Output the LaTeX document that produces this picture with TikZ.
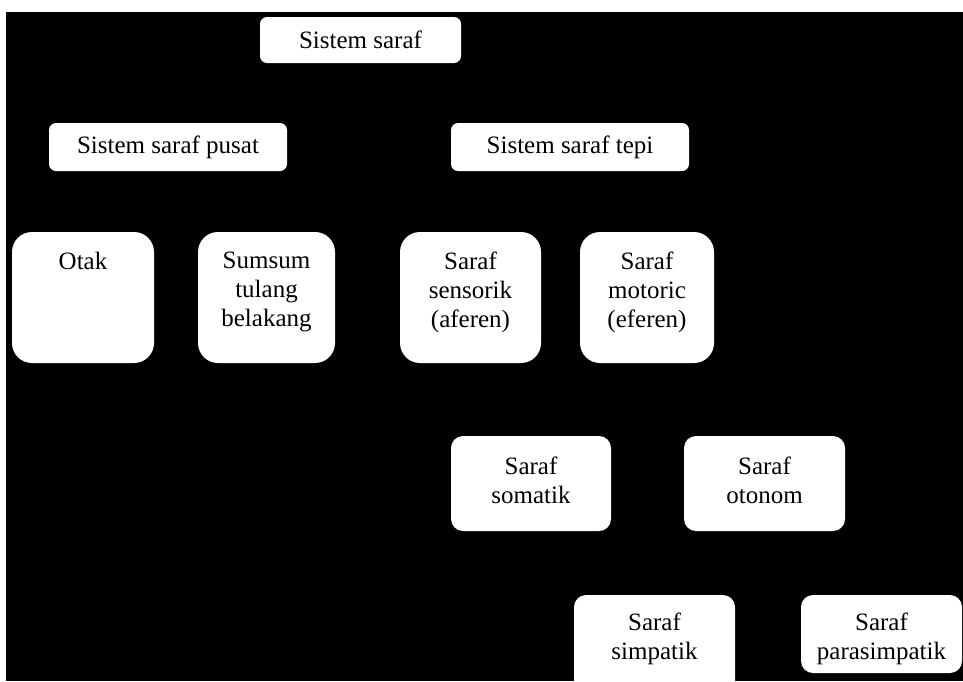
\documentclass[tikz,border=0pt]{standalone}
\usepackage{fontspec}
\setmainfont{Liberation Serif}
\begin{document}
\begin{tikzpicture}[x=1pt,y=-1pt,
  box/.style={rectangle, fill=white, draw=none, inner sep=0pt, rounded corners=#1},
  box/.default=10pt,
  lbl/.style={font=\fontsize{25}{29}\selectfont, align=center, inner sep=0pt, anchor=north, text=black},
  mid/.style={font=\fontsize{25}{29}\selectfont, align=center, inner sep=0pt, text=black}]
\useasboundingbox (0,0) rectangle (963,681);
\clip (0,0) rectangle (963,681);
\fill[white] (0,0) rectangle (963,681);
\fill[black] (6,12) rectangle (963,681);

% level 0
\node[box=7pt, minimum width=201pt, minimum height=46pt] (ss) at (360.5,40) {};
\node[mid] (ssT) at (ss.center) {Sistem saraf};

% level 1
\node[box=7pt, minimum width=238pt, minimum height=48pt] (ssp) at (168,147) {};
\node[mid] (sspT) at (ssp.center) {Sistem saraf pusat};
\node[box=7pt, minimum width=238pt, minimum height=48pt] (sst) at (570,147) {};
\node[mid] (sstT) at (sst.center) {Sistem saraf tepi};

% level 2
\node[box=20pt, minimum width=142pt, minimum height=131pt] (otak) at (83,297.5) {};
\node[lbl] (otakT) at ([yshift=-20pt]otak.north) {Otak};
\node[box=20pt, minimum width=137pt, minimum height=131pt] (sumsum) at (266.5,297.5) {};
\node[lbl] (sumsumT) at ([yshift=-20pt]sumsum.north) {Sumsum\\tulang\\belakang};
\node[box=20pt, minimum width=141pt, minimum height=131pt] (sensorik) at (470.5,297.5) {};
\node[lbl] (sensorikT) at ([yshift=-20pt]sensorik.north) {Saraf\\sensorik\\(aferen)};
\node[box=20pt, minimum width=134pt, minimum height=131pt] (motoric) at (647,297.5) {};
\node[lbl] (motoricT) at ([yshift=-20pt]motoric.north) {Saraf\\motoric\\(eferen)};

% level 3
\node[box=12pt, minimum width=160pt, minimum height=95pt] (somatik) at (531,483.5) {};
\node[lbl] (somatikT) at ([yshift=-21pt]somatik.north) {Saraf\\somatik};
\node[box=12pt, minimum width=161pt, minimum height=95pt] (otonom) at (764.5,483.5) {};
\node[lbl] (otonomT) at ([yshift=-21pt]otonom.north) {Saraf\\otonom};

% level 4
\node[box=12pt, minimum width=161pt, minimum height=105pt] (simpatik) at (654.5,647.5) {};
\node[lbl] (simpatikT) at ([yshift=-18pt]simpatik.north) {Saraf\\simpatik};
\node[box=12pt, minimum width=161pt, minimum height=78pt] (parasimpatik) at (881.5,634) {};
\node[lbl] (parasimpatikT) at ([yshift=-18pt]parasimpatik.north) {Saraf\\parasimpatik};
\end{tikzpicture}
\end{document}
